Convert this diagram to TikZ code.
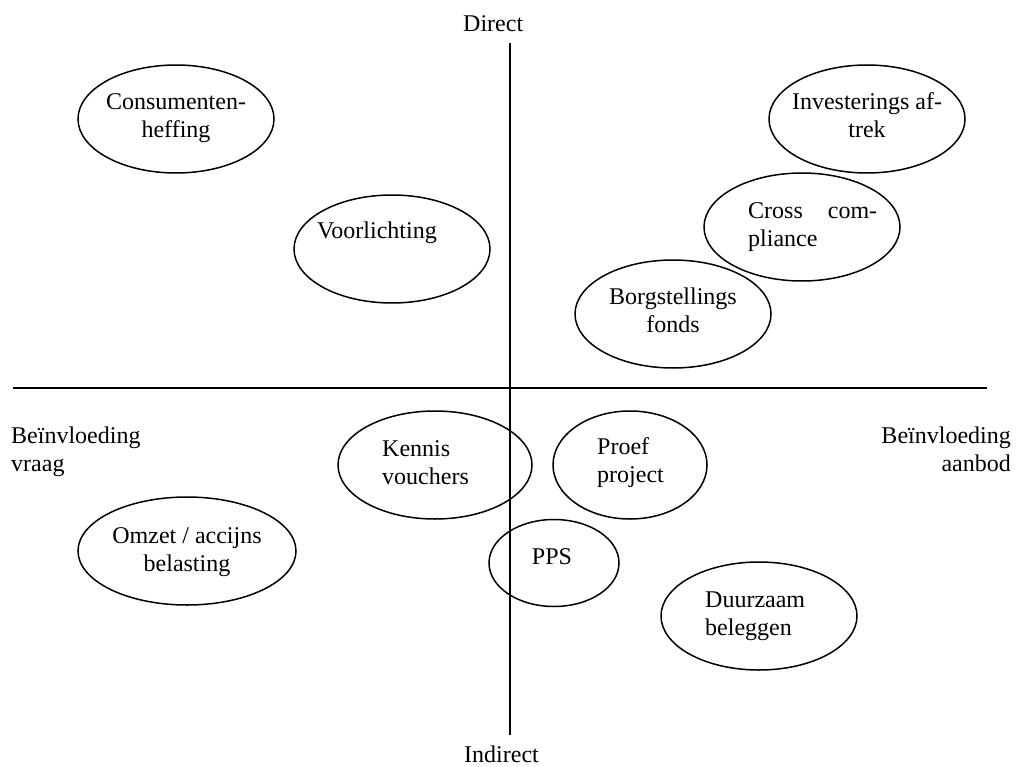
\documentclass[tikz,border=0pt]{standalone}
\usepackage{fontspec}
\setmainfont{Liberation Serif}
\usetikzlibrary{shapes.geometric}
\begin{document}
\begin{tikzpicture}[x=1pt,y=-1pt,
  oval/.style={ellipse,draw,line width=1.5pt,inner sep=0pt},
  txt/.style={inner sep=0pt,font=\fontsize{24}{28}\selectfont},
  axis/.style={line width=2pt}]
\useasboundingbox (0,0) rectangle (1016,767);
% axes
\coordinate (vtop) at (510,43);
\coordinate (vbot) at (510,735);
\coordinate (hl) at (13,388);
\coordinate (hr) at (987,388);
\draw[axis] (vtop) -- (vbot);
\draw[axis] (hl) -- (hr);
% axis labels
\node[txt,anchor=base west] (direct) at (463,32) {Direct};
\node[txt,anchor=base west] (indirect) at (464,762) {Indirect};
\node[txt,anchor=base west,align=left] (vraag) at (11,471) {Beïnvloeding\\vraag};
\node[txt,anchor=base east,align=right] (aanbod) at (1011,471) {Beïnvloeding\\aanbod};
% ellipses
\node[oval,minimum width=196pt,minimum height=108pt] (cons) at (176,119) {};
\node[oval,minimum width=196pt,minimum height=108pt] (voor) at (392,249) {};
\node[oval,minimum width=196pt,minimum height=108pt] (inv) at (867,119) {};
\node[oval,minimum width=196pt,minimum height=108pt] (cross) at (802,227) {};
\node[oval,minimum width=196pt,minimum height=108pt] (borg) at (673,314) {};
\node[oval,minimum width=194pt,minimum height=108pt] (kennis) at (435,465) {};
\node[oval,minimum width=154pt,minimum height=108pt] (proef) at (630,465) {};
\node[oval,minimum width=218pt,minimum height=108pt] (omzet) at (187,551) {};
\node[oval,minimum width=130pt,minimum height=87pt] (pps) at (554,563) {};
\node[oval,minimum width=196pt,minimum height=108pt] (duur) at (759,616) {};
% texts
\node[txt,anchor=base,align=center] (tcons) at (176,138) {Consumenten-\\heffing};
\node[txt,anchor=base west] (tvoor) at (317,239) {Voorlichting};
\node[txt,anchor=base,align=center] (tinv) at (867,138) {Investerings af-\\trek};
\node[txt,anchor=base west,align=left] (tcross) at (748,246) {\makebox[129pt][s]{Cross com-}\\pliance};
\node[txt,anchor=base,align=center] (tborg) at (673,332) {Borgstellings\\fonds};
\node[txt,anchor=base west,align=left] (tkennis) at (382,484) {Kennis\\vouchers};
\node[txt,anchor=base west,align=left] (tproef) at (597,482) {Proef\\project};
\node[txt,anchor=base,align=center] (tomzet) at (187,571) {Omzet / accijns\\belasting};
\node[txt,anchor=base] (tpps) at (552,564) {PPS};
\node[txt,anchor=base west,align=left] (tduur) at (705,635) {Duurzaam\\beleggen};
\end{tikzpicture}
\end{document}
